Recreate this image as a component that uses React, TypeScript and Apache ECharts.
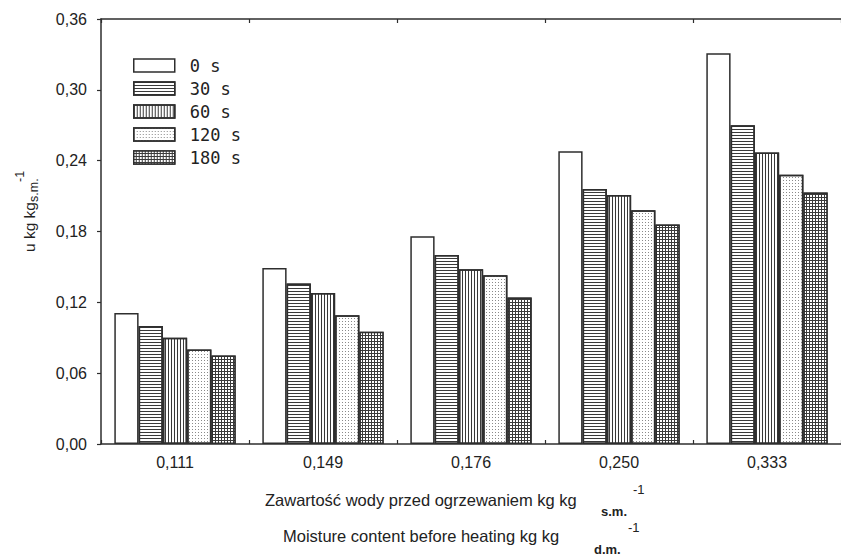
import React, { useEffect, useRef } from 'react';
import * as echarts from 'echarts';

const categories = ['0,111', '0,149', '0,176', '0,250', '0,333'];
const seriesNames = ['0 s', '30 s', '60 s', '120 s', '180 s'];
const values0s = [0.111, 0.149, 0.176, 0.248, 0.331];
const values30s = [0.100, 0.136, 0.160, 0.216, 0.270];
const values60s = [0.090, 0.128, 0.148, 0.211, 0.247];
const values120s = [0.080, 0.109, 0.143, 0.198, 0.228];
const values180s = [0.075, 0.095, 0.124, 0.186, 0.213];
const allValues = [values0s, values30s, values60s, values120s, values180s];

const yMin = 0;
const yMax = 0.36;
const yInterval = 0.06;

const yTitleMain = 'u kg kg';
const yTitleSub = 's.m.';
const yTitleSup = '-1';
const xTitlePl = 'Zawartość wody przed ogrzewaniem kg kg';
const xTitlePlSub = 's.m.';
const xTitleEn = 'Moisture content before heating kg kg';
const xTitleEnSub = 'd.m.';
const xTitleSup = '-1';

const INK = '#2e2e2e';
const FONT = 'Liberation Sans, Arial, sans-serif';

const barStyles: any[] = [
  { color: '#ffffff' },
  {
    color: '#ffffff',
    decal: { symbol: 'rect', symbolSize: 1, dashArrayX: [1, 0], dashArrayY: [1, 2], color: '#3a3a3a' },
  },
  {
    color: '#ffffff',
    decal: { symbol: 'rect', symbolSize: 1, dashArrayX: [1, 2], dashArrayY: [1, 0], color: '#3a3a3a' },
  },
  {
    color: '#ffffff',
    decal: { symbol: 'rect', symbolSize: 1, dashArrayX: [1, 2], dashArrayY: [1, 2], color: '#8a8a8a' },
  },
  {
    color: '#3a3a3a',
    decal: { symbol: 'rect', symbolSize: 1, dashArrayX: [2, 1], dashArrayY: [2, 1], color: '#ffffff' },
  },
];

const txt = (x: number, y: number, text: string, size: number, extra: any = {}) => ({
  type: 'text',
  x,
  y,
  silent: true,
  style: {
    text,
    fontSize: size,
    fontFamily: FONT,
    fill: '#222',
    align: 'left',
    verticalAlign: 'middle',
    ...extra,
  },
});

export default function App() {
  const ref = useRef<HTMLDivElement>(null);
  useEffect(() => {
    document.body.style.margin = '0';
    if (!ref.current) return;
    const chart = echarts.init(ref.current, null, { renderer: 'svg' });
    const tickStyle = { color: INK, width: 1.2 };
    const axisLineStyle = { color: INK, width: 1.5 };
    chart.setOption({
      animation: false,
      backgroundColor: '#ffffff',
      grid: { left: 101, top: 19, width: 745, height: 425, containLabel: false },
      legend: {
        orient: 'vertical',
        left: 133,
        top: 57,
        padding: 0,
        itemWidth: 41,
        itemHeight: 13,
        itemGap: 6,
        icon: 'rect',
        selectedMode: false,
        data: seriesNames,
        itemStyle: { borderColor: INK, borderWidth: 1.5 },
        textStyle: {
          fontFamily: 'DejaVu Sans Mono, monospace',
          fontSize: 17,
          color: '#222',
          padding: [0, 0, 0, 10],
        },
      },
      xAxis: [
        {
          type: 'category',
          data: categories,
          position: 'bottom',
          axisLine: { lineStyle: axisLineStyle },
          axisTick: { show: true, inside: true, length: 4, lineStyle: tickStyle },
          axisLabel: { fontSize: 16, fontFamily: FONT, color: '#222', margin: 10 },
          splitLine: { show: false },
        },
        {
          type: 'category',
          data: categories,
          position: 'top',
          axisLine: { lineStyle: axisLineStyle },
          axisTick: { show: true, inside: true, length: 4, lineStyle: tickStyle },
          axisLabel: { show: false },
          splitLine: { show: false },
        },
      ],
      yAxis: {
        type: 'value',
        min: yMin,
        max: yMax,
        interval: yInterval,
        axisLine: { show: true, lineStyle: axisLineStyle },
        axisTick: { show: true, inside: false, length: 4, lineStyle: tickStyle },
        axisLabel: {
          fontSize: 16,
          fontFamily: FONT,
          color: '#222',
          margin: 14,
          formatter: (v: number) => v.toFixed(2).replace('.', ','),
        },
        splitLine: { show: false },
      },
      series: seriesNames.map((name, i) => ({
        name,
        type: 'bar',
        data: allValues[i],
        barGap: '0%',
        barCategoryGap: '18%',
        itemStyle: { ...barStyles[i], borderColor: INK, borderWidth: 1.5 },
        emphasis: { disabled: true },
      })),
      graphic: [
        {
          type: 'group',
          x: 29,
          y: 252,
          rotation: Math.PI / 2,
          children: [
            txt(0, 0, yTitleMain, 15.5),
            txt(50, 5, yTitleSub, 12.5),
            txt(70, -9, yTitleSup, 12.5),
          ],
        },
        txt(265, 500, xTitlePl, 16.5),
        txt(601, 511, xTitlePlSub, 13, { fontWeight: 'bold' }),
        txt(633, 489, xTitleSup, 13),
        txt(283, 536, xTitleEn, 16.5),
        txt(594, 549, xTitleEnSub, 13, { fontWeight: 'bold' }),
        txt(628, 527, xTitleSup, 13),
      ],
    });
    return () => chart.dispose();
  }, []);
  return <div ref={ref} style={{ width: 841, height: 555 }} />;
}
